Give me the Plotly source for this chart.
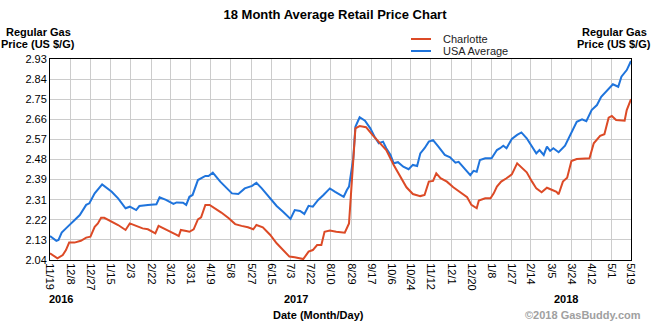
import plotly.graph_objects as go

# ---- data -------------------------------------------------------------
usa_dates = [
    "2016-11-19", "2016-11-25", "2016-11-27", "2016-11-30", "2016-12-04", "2016-12-11",
    "2016-12-17", "2016-12-23", "2016-12-26", "2016-12-31", "2017-01-07", "2017-01-16",
    "2017-01-22", "2017-01-29", "2017-02-02", "2017-02-08", "2017-02-11", "2017-02-19",
    "2017-02-27", "2017-03-02", "2017-03-08", "2017-03-15", "2017-03-18", "2017-03-24",
    "2017-03-27", "2017-03-30", "2017-04-02", "2017-04-07", "2017-04-14", "2017-04-17",
    "2017-04-21", "2017-04-28", "2017-05-04", "2017-05-09", "2017-05-15", "2017-05-21",
    "2017-05-28", "2017-06-01", "2017-06-06", "2017-06-14", "2017-06-20", "2017-06-26",
    "2017-07-03", "2017-07-07", "2017-07-12", "2017-07-16", "2017-07-20", "2017-07-24",
    "2017-07-29", "2017-08-03", "2017-08-09", "2017-08-14", "2017-08-20", "2017-08-22",
    "2017-08-25", "2017-08-27", "2017-08-31", "2017-09-02", "2017-09-06", "2017-09-11",
    "2017-09-16", "2017-09-20", "2017-09-24", "2017-09-28", "2017-10-01", "2017-10-05",
    "2017-10-08", "2017-10-12", "2017-10-17", "2017-10-22", "2017-10-26", "2017-10-30",
    "2017-11-02", "2017-11-06", "2017-11-10", "2017-11-14", "2017-11-19", "2017-11-25",
    "2017-11-30", "2017-12-05", "2017-12-08", "2017-12-12", "2017-12-19", "2017-12-22",
    "2017-12-25", "2017-12-28", "2018-01-02", "2018-01-08", "2018-01-13", "2018-01-16",
    "2018-01-19", "2018-01-22", "2018-01-27", "2018-02-01", "2018-02-05", "2018-02-10",
    "2018-02-15", "2018-02-19", "2018-02-22", "2018-02-26", "2018-03-01", "2018-03-04",
    "2018-03-07", "2018-03-12", "2018-03-18", "2018-03-24", "2018-03-29", "2018-04-03",
    "2018-04-07", "2018-04-12", "2018-04-17", "2018-04-21", "2018-04-28", "2018-05-02",
    "2018-05-07", "2018-05-10", "2018-05-15", "2018-05-19",
]
usa_prices = [
    2.146, 2.125, 2.129, 2.161, 2.180, 2.213,
    2.239, 2.284, 2.291, 2.335, 2.375, 2.342,
    2.313, 2.269, 2.276, 2.261, 2.279, 2.284,
    2.287, 2.318, 2.306, 2.288, 2.295, 2.294,
    2.284, 2.320, 2.328, 2.394, 2.412, 2.412,
    2.427, 2.387, 2.357, 2.335, 2.332, 2.357,
    2.368, 2.382, 2.357, 2.313, 2.279, 2.254,
    2.222, 2.261, 2.257, 2.244, 2.280, 2.276,
    2.306, 2.328, 2.357, 2.342, 2.323, 2.320,
    2.350, 2.365, 2.490, 2.630, 2.672, 2.657,
    2.623, 2.586, 2.557, 2.564, 2.535, 2.505,
    2.468, 2.473, 2.453, 2.442, 2.461, 2.456,
    2.512, 2.535, 2.564, 2.571, 2.542, 2.505,
    2.495, 2.471, 2.475, 2.453, 2.416, 2.435,
    2.431, 2.483, 2.490, 2.490, 2.527, 2.535,
    2.546, 2.535, 2.576, 2.594, 2.605, 2.579,
    2.542, 2.512, 2.527, 2.505, 2.542, 2.523,
    2.535, 2.517, 2.546, 2.601, 2.652, 2.663,
    2.655, 2.704, 2.726, 2.763, 2.800, 2.818,
    2.807, 2.852, 2.881, 2.921,
]

charlotte_dates = [
    "2016-11-19", "2016-11-26", "2016-12-01", "2016-12-04", "2016-12-07", "2016-12-12",
    "2016-12-18", "2016-12-23", "2016-12-27", "2016-12-31", "2017-01-03", "2017-01-06",
    "2017-01-09", "2017-01-16", "2017-01-22", "2017-01-29", "2017-02-02", "2017-02-08",
    "2017-02-14", "2017-02-19", "2017-02-26", "2017-03-01", "2017-03-08", "2017-03-18",
    "2017-03-20", "2017-03-22", "2017-03-27", "2017-03-30", "2017-04-03", "2017-04-07",
    "2017-04-10", "2017-04-14", "2017-04-18", "2017-04-23", "2017-04-29", "2017-05-06",
    "2017-05-12", "2017-05-18", "2017-05-24", "2017-05-29", "2017-06-01", "2017-06-07",
    "2017-06-14", "2017-06-20", "2017-06-26", "2017-07-02", "2017-07-07", "2017-07-15",
    "2017-07-20", "2017-07-24", "2017-07-28", "2017-08-01", "2017-08-04", "2017-08-09",
    "2017-08-15", "2017-08-20", "2017-08-23", "2017-08-27", "2017-08-30", "2017-09-02",
    "2017-09-06", "2017-09-12", "2017-09-18", "2017-09-25", "2017-10-01", "2017-10-08",
    "2017-10-14", "2017-10-20", "2017-10-26", "2017-11-02", "2017-11-06", "2017-11-10",
    "2017-11-14", "2017-11-17", "2017-11-21", "2017-11-27", "2017-12-03", "2017-12-09",
    "2017-12-16", "2017-12-20", "2017-12-25", "2017-12-27", "2018-01-02", "2018-01-07",
    "2018-01-10", "2018-01-13", "2018-01-17", "2018-01-22", "2018-01-27", "2018-02-01",
    "2018-02-05", "2018-02-10", "2018-02-15", "2018-02-19", "2018-02-24", "2018-03-01",
    "2018-03-06", "2018-03-10", "2018-03-12", "2018-03-16", "2018-03-20", "2018-03-24",
    "2018-03-29", "2018-04-06", "2018-04-10", "2018-04-14", "2018-04-20", "2018-04-24",
    "2018-04-28", "2018-05-01", "2018-05-05", "2018-05-13", "2018-05-15", "2018-05-19",
]
charlotte_prices = [
    2.070, 2.047, 2.062, 2.084, 2.117, 2.117,
    2.125, 2.139, 2.143, 2.187, 2.202, 2.227,
    2.227, 2.210, 2.195, 2.173, 2.202, 2.191,
    2.180, 2.176, 2.158, 2.191, 2.173, 2.151,
    2.146, 2.173, 2.168, 2.165, 2.176, 2.220,
    2.229, 2.284, 2.284, 2.269, 2.250, 2.225,
    2.199, 2.191, 2.185, 2.176, 2.195, 2.185,
    2.151, 2.114, 2.084, 2.055, 2.052, 2.044,
    2.077, 2.084, 2.106, 2.106, 2.165, 2.170,
    2.165, 2.161, 2.161, 2.202, 2.409, 2.623,
    2.633, 2.628, 2.594, 2.557, 2.527, 2.461,
    2.409, 2.362, 2.332, 2.323, 2.328, 2.387,
    2.390, 2.424, 2.402, 2.387, 2.362, 2.342,
    2.318, 2.284, 2.269, 2.303, 2.313, 2.313,
    2.335, 2.365, 2.387, 2.402, 2.419, 2.468,
    2.449, 2.428, 2.387, 2.357, 2.340, 2.360,
    2.350, 2.342, 2.331, 2.387, 2.404, 2.478,
    2.487, 2.487, 2.490, 2.557, 2.590, 2.597,
    2.670, 2.678, 2.660, 2.657, 2.704, 2.752,
]

tick_labels = ["11/19", "12/8", "12/27", "1/15", "2/3", "2/22", "3/12", "3/31", "4/19",
               "5/8", "5/27", "6/15", "7/3", "7/22", "8/10", "8/29", "9/17", "10/6",
               "10/24", "11/12", "12/1", "12/20", "1/8", "1/27", "2/14", "3/5", "3/24",
               "4/12", "5/1", "5/19"]
tick_years = [2016] * 3 + [2017] * 19 + [2018] * 8
price_ticks = ["2.04", "2.13", "2.22", "2.31", "2.39", "2.48", "2.57", "2.66", "2.75",
               "2.84", "2.93"]
y_min, y_max = 2.04, 2.93

# ---- styling ----------------------------------------------------------
RED = "#dc4a26"
BLUE = "#1f74dc"
GRID = "#cccccc"
FONT = "Arial, Liberation Sans, sans-serif"

tick_dates = [f"{y}-{int(l.split('/')[0]):02d}-{int(l.split('/')[1]):02d}"
              for l, y in zip(tick_labels, tick_years)]
y_step = (y_max - y_min) / (len(price_ticks) - 1)
y_vals = [y_min + i * y_step for i in range(len(price_ticks))]

W, H = 670, 325
L, R, T, B = 50, 39, 59, 65
pw, ph = W - L - R, H - T - B


def px(x):
    return (x - L) / pw


def py(y):
    return (H - B - y) / ph


fig = go.Figure()
fig.add_trace(go.Scatter(x=usa_dates, y=usa_prices, mode="lines", name="USA Average",
                         line=dict(color=BLUE, width=2)))
fig.add_trace(go.Scatter(x=charlotte_dates, y=charlotte_prices, mode="lines", name="Charlotte",
                         line=dict(color=RED, width=2)))

axis_font = dict(family=FONT, size=11, color="black")
fig.update_layout(
    width=W, height=H,
    margin=dict(l=L, r=R, t=T, b=B),
    plot_bgcolor="white", paper_bgcolor="white",
    showlegend=False,
    font=dict(family=FONT, size=11, color="black"),
    title=dict(text="<b>18 Month Average Retail Price Chart</b>", x=0.5, xanchor="center",
               y=1 - 14 / H, yanchor="middle", font=dict(family=FONT, size=13, color="black")),
    xaxis=dict(type="date", range=[tick_dates[0], tick_dates[-1]],
               tickmode="array", tickvals=tick_dates, ticktext=tick_labels, tickangle=90,
               showgrid=True, gridcolor=GRID, gridwidth=1,
               showline=True, linecolor="black", linewidth=1, mirror=True,
               ticks="", tickfont=axis_font, zeroline=False),
    yaxis=dict(range=[y_min, y_max], tickmode="array", tickvals=y_vals, ticktext=price_ticks,
               showgrid=True, gridcolor=GRID, gridwidth=1,
               showline=True, linecolor="black", linewidth=1, mirror=True,
               ticks="", tickfont=axis_font, zeroline=False),
    yaxis2=dict(range=[y_min, y_max], overlaying="y", side="right", anchor="x",
                tickmode="array", tickvals=y_vals, ticktext=price_ticks,
                showgrid=False, showline=False, ticks="", tickfont=axis_font, zeroline=False),
)

annotations = []
bold = dict(family=FONT, size=11, color="black")
# axis titles, both sides
for cx in (38, 614):
    annotations.append(dict(text="<b>Regular Gas</b>", x=px(cx), y=py(32), xref="paper",
                            yref="paper", xanchor="center", yanchor="middle",
                            showarrow=False, font=bold))
    annotations.append(dict(text="<b>Price (US $/G)</b>", x=px(cx), y=py(44), xref="paper",
                            yref="paper", xanchor="center", yanchor="middle",
                            showarrow=False, font=bold))
# year markers under the date ticks
for yr, lx in (("2016", 47), ("2017", 282), ("2018", 552)):
    annotations.append(dict(text=f"<b>{yr}</b>", x=px(lx), y=py(299), xref="paper",
                            yref="paper", xanchor="left", yanchor="middle",
                            showarrow=False, font=bold))
annotations.append(dict(text="<b>Date (Month/Day)</b>", x=px(318), y=py(315), xref="paper",
                        yref="paper", xanchor="center", yanchor="middle",
                        showarrow=False, font=bold))
annotations.append(dict(text="<b>©2018 GasBuddy.com</b>", x=px(643), y=py(315), xref="paper",
                        yref="paper", xanchor="right", yanchor="middle", showarrow=False,
                        font=dict(family=FONT, size=11, color="#a0a0a0")))

# compact legend
shapes = []
for name, color, ly in (("Charlotte", RED, 39), ("USA Average", BLUE, 51)):
    shapes.append(dict(type="line", xref="paper", yref="paper", x0=px(411), x1=px(431),
                       y0=py(ly), y1=py(ly), line=dict(color=color, width=2)))
    annotations.append(dict(text=name, x=px(441), y=py(ly), xref="paper", yref="paper",
                            xanchor="left", yanchor="middle", showarrow=False,
                            font=dict(family=FONT, size=11, color="#222222")))

fig.update_layout(annotations=annotations, shapes=shapes)
fig.write_html("out.html")
